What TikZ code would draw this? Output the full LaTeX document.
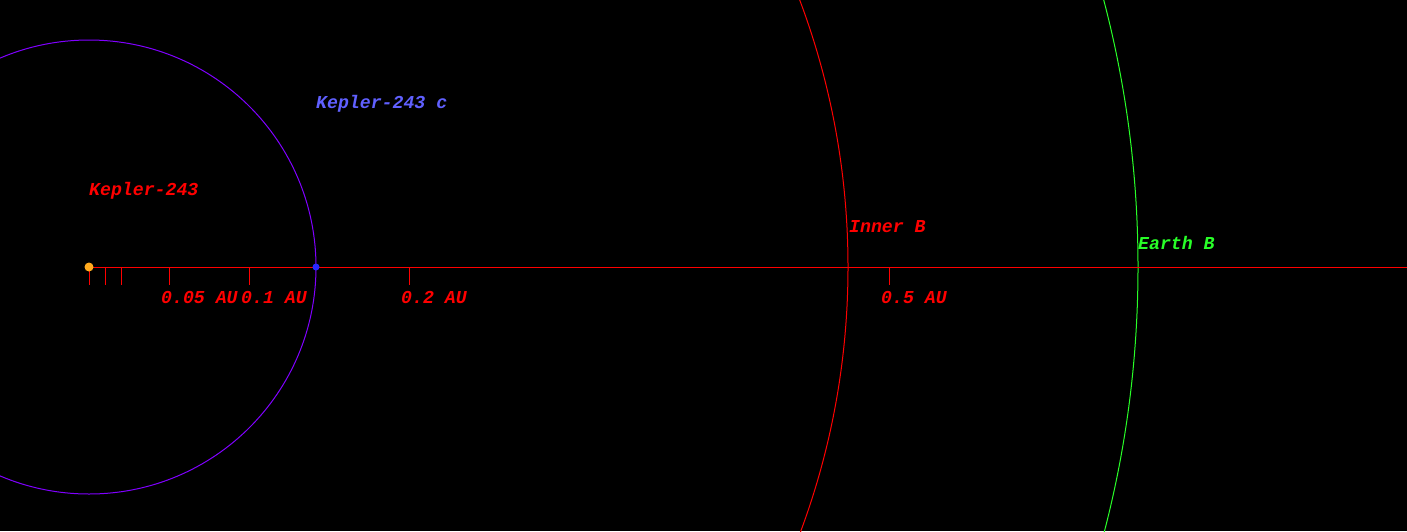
\documentclass[tikz,border=0pt]{standalone}
\usepackage{fontspec}
\newfontfamily\labfont{Liberation Mono}
\definecolor{orbitviolet}{RGB}{128,0,255}
\definecolor{planetlab}{RGB}{96,96,255}
\definecolor{planetdot}{RGB}{40,40,255}
\definecolor{starorange}{RGB}{255,170,30}
\definecolor{earthgreen}{RGB}{40,255,40}
\tikzset{
  lab/.style={anchor=base west, inner sep=0pt, font=\labfont\bfseries\itshape\fontsize{18.2}{20}\selectfont},
  orbit/.style={line width=1pt},
  tickline/.style={red, line width=0.9pt},
}
\begin{document}
\begin{tikzpicture}[x=1pt,y=-1pt]
\useasboundingbox (0,0) rectangle (1407,531);
\fill[black] (0,0) rectangle (1407,531);
\clip (0,0) rectangle (1407,531);
% orbits
\draw[orbit, orbitviolet] (89,267) circle (227);
\draw[orbit, red] (89,267) circle (759);
\draw[orbit, earthgreen] (89,267) circle (1049);
% axis
\coordinate (axisend) at (1407,267);
\draw[tickline] (89,267) -- (axisend);
% ticks
\foreach \x in {89,105,121,169,249,409,889}
  \draw[tickline] (\x,267) -- (\x,285);
% star and planet
\node[circle, fill=starorange, inner sep=0pt, minimum size=9pt] (star) at (89,267) {};
\node[circle, fill=planetdot, inner sep=0pt, minimum size=7pt] (planet) at (316,267) {};
% labels
\node[lab, red] (starlab) at (89,195) {Kepler-243};
\node[lab, planetlab] (planetlab) at (316,108) {Kepler-243 c};
\node[lab, red] (l005) at (161,303) {0.05 AU};
\node[lab, red] (l01) at (241,303) {0.1 AU};
\node[lab, red] (l02) at (401,303) {0.2 AU};
\node[lab, red] (l05) at (881,303) {0.5 AU};
\node[lab, red] (innerlab) at (849,232) {Inner B};
\node[lab, earthgreen] (earthlab) at (1138,249) {Earth B};
\end{tikzpicture}
\end{document}
